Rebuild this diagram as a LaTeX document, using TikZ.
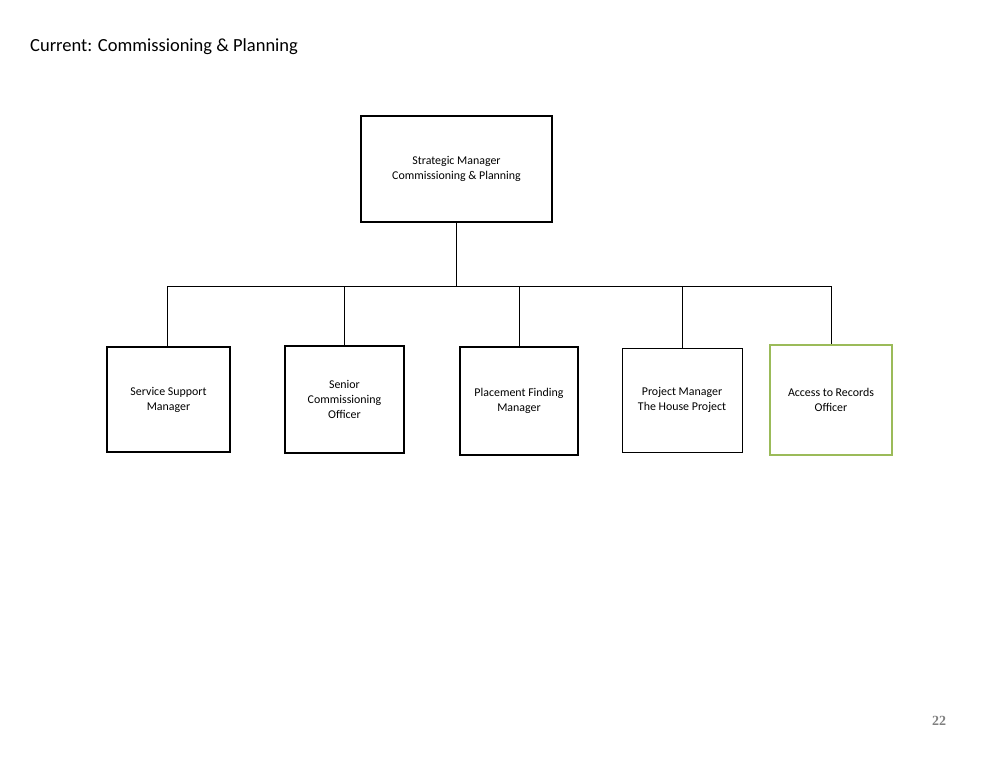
\documentclass[tikz,border=0pt]{standalone}
\usepackage{fontspec}
\setmainfont{Carlito}
\newfontfamily\numfont{Liberation Serif}
\begin{document}
\begin{tikzpicture}[x=1pt,y=-1pt,
  box/.style={draw=black,line width=1.6pt,align=center,font=\fontsize{11.9}{15}\selectfont,inner sep=0pt},
  thinbox/.style={box,line width=0.8pt},
  greenbox/.style={box,draw={rgb,255:red,155;green,187;blue,89},line width=1.6pt},
  conn/.style={line width=0.8pt}]
\useasboundingbox (0,0) rectangle (1008,756);
\node[anchor=west,font=\fontsize{18.5}{22}\selectfont,inner sep=0pt] (title) at (30,47) {Current: Commissioning \& Planning};
\node[box,minimum width=191pt,minimum height=106pt] (top) at (456.5,169) {Strategic Manager\\Commissioning \& Planning};
\node[box,minimum width=123pt,minimum height=105pt] (b1) at (168.5,399.5) {Service Support\\Manager};
\node[box,minimum width=119pt,minimum height=107pt] (b2) at (344.5,399.5) {Senior\\Commissioning\\Officer};
\node[box,minimum width=118pt,minimum height=108pt] (b3) at (519,401) {Placement Finding\\Manager};
\node[thinbox,minimum width=120pt,minimum height=104pt] (b4) at (682,400) {Project Manager\\The House Project};
\node[greenbox,minimum width=122pt,minimum height=110pt] (b5) at (831,400) {Access to Records\\Officer};
\coordinate (l) at (167,286);
\coordinate (r) at (831,286);
\draw[conn] (top.south) -- (top.south |- l);
\draw[conn] (l) -- (r);
\draw[conn] (l) -- (b1.north -| l);
\draw[conn] (b2.north |- l) -- (b2.north);
\draw[conn] (b3.north |- l) -- (b3.north);
\draw[conn] (b4.north |- l) -- (b4.north);
\draw[conn] (r) -- (b5.north);
\node[font=\numfont\bfseries\fontsize{14}{16}\selectfont,text=gray] (pg) at (939,721) {22};
\end{tikzpicture}
\end{document}
